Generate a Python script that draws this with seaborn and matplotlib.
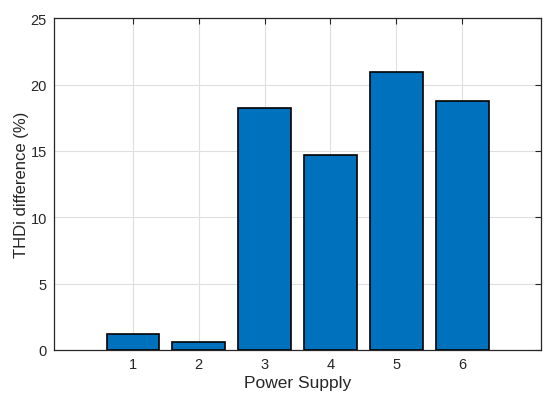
import matplotlib
matplotlib.use("Agg")
import matplotlib.pyplot as plt
import pandas as pd
import seaborn as sns

supplies = [1, 2, 3, 4, 5, 6]
thdi_diff = [1.18, 0.58, 18.25, 14.72, 20.97, 18.79]
y_ticks = [0, 5, 10, 15, 20, 25]

df = pd.DataFrame({"supply": supplies, "thdi": thdi_diff})

sns.set_style("white")
plt.rcParams["font.family"] = ["Liberation Sans", "DejaVu Sans"]

fig = plt.figure(figsize=(5.5, 4.02), dpi=100)
ax = fig.add_axes([0.098, 0.127, 0.886, 0.825])

sns.barplot(data=df, x="supply", y="thdi", native_scale=True, width=0.8,
            color="#0072BD", saturation=1, edgecolor="black", linewidth=1.2,
            ax=ax, zorder=3)

ax.set_xlim(-0.2, 7.2)
ax.set_ylim(0, 25)
ax.set_xticks(supplies)
ax.set_yticks(y_ticks)
ax.grid(True, color="#dfdfdf", linewidth=0.8, zorder=0)
ax.set_axisbelow(True)
ax.tick_params(direction="in", top=True, right=True, length=4, width=0.8,
               labelsize=10.5, colors="#262626", pad=5)
for s in ax.spines.values():
    s.set_color("#262626")
    s.set_linewidth(0.9)
ax.set_xlabel("Power Supply", fontsize=12.5, color="#262626", labelpad=3)
ax.set_ylabel("THDi difference (%)", fontsize=12, color="#262626", labelpad=1)

fig.savefig("out.png", dpi=100)
